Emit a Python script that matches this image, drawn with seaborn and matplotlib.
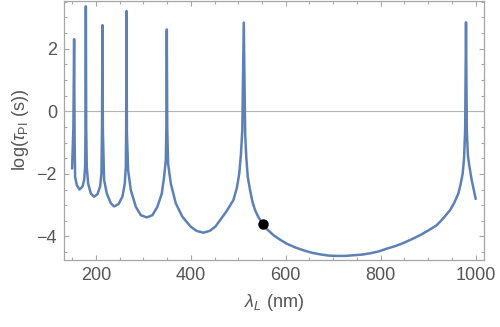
import numpy as np
import pandas as pd
import matplotlib
matplotlib.use("Agg")
import matplotlib.pyplot as plt
import seaborn as sns
from matplotlib.ticker import MultipleLocator

# values
lam_nm = [150.0, 152.8, 154.3, 155.3, 156.4, 160.0, 165.5, 171.8, 175.4, 177.5, 178.3,
          179.0, 179.8, 181.0, 183.8, 189.5, 196.4, 203.4, 209.0, 211.8, 213.0,
          213.9, 214.8, 217.5, 223.2, 231.6, 238.5, 247.6, 256.0, 261.0, 263.2, 263.9,
          264.6, 265.5, 268.0, 273.7, 284.2, 294.7, 307.4, 319.2, 329.7, 338.9,
          343.8, 347.4, 348.6,
          349.5, 350.5, 352.2, 357.9, 368.4, 382.3, 400.0, 412.0, 426.5, 440.0,
          452.0, 461.7, 475.0, 489.7, 497.0, 502.0, 505.5, 508.5,
          511.6, 514.5, 517.0, 520.0, 524.8, 530.0, 535.4, 543.0, 551.6,
          560.0, 575.0, 590.0, 602.0, 620.0, 637.0, 655.0, 672.0, 690.0, 707.0,
          725.0, 742.0, 760.0, 777.0, 795.0, 812.6, 830.0, 847.6, 865.0, 882.7,
          900.0, 917.9, 930.0, 946.0, 955.0, 963.4, 968.0, 972.6,
          975.5, 977.8,
          979.6, 981.3, 983.5, 986.6, 991.6, 1000.0]
log_tau = [-1.83, -0.5, 2.30, -0.8, -2.10, -2.36, -2.50, -2.41, -2.20, -1.78, -0.6,
           3.35, -0.6, -1.78, -2.31, -2.63, -2.73, -2.65, -2.41, -1.99, -0.6,
           2.75, -0.6, -2.20, -2.63, -2.94, -3.04, -2.97, -2.73, -2.31, -1.78, -0.6,
           3.20, -0.7, -1.88, -2.52, -3.05, -3.32, -3.39, -3.32, -3.05, -2.63,
           -2.10, -1.56, -0.5,
           2.61, -0.6, -1.67, -2.31, -2.94, -3.37, -3.69, -3.82, -3.88, -3.82,
           -3.68, -3.48, -3.20, -2.84, -2.45, -2.00, -1.40, -0.6,
           2.83, -0.7, -1.50, -2.10, -2.52, -2.90, -3.16, -3.40, -3.59,
           -3.76, -3.97, -4.12, -4.23, -4.35, -4.44, -4.52, -4.57, -4.61, -4.62,
           -4.62, -4.60, -4.58, -4.54, -4.48, -4.39, -4.31, -4.21, -4.09, -3.96,
           -3.81, -3.64, -3.45, -3.16, -2.92, -2.63, -2.35, -1.99,
           -1.50, -0.6,
           2.84, -0.6, -1.40, -1.75, -2.20, -2.80]
dot_lam = [551.6]
dot_log_tau = [-3.59]

df = pd.DataFrame({"lam": lam_nm, "logtau": log_tau})

sns.set_style("ticks")
plt.rcParams['font.family'] = ['Liberation Sans', 'DejaVu Sans']
plt.rcParams['mathtext.fontset'] = 'custom'
plt.rcParams['mathtext.rm'] = 'Liberation Sans'
plt.rcParams['mathtext.it'] = 'Liberation Sans:italic'

fig = plt.figure(figsize=(5, 3.27), dpi=100)
ax = fig.add_axes([0.128, 0.205, 0.84, 0.792])

ax.axhline(0, color="#b4b4b4", lw=0.8, zorder=1)
sns.lineplot(data=df, x="lam", y="logtau", ax=ax, color="#5e81b5", lw=1.8,
             estimator=None, sort=False, zorder=2)
ax.plot(dot_lam, dot_log_tau, "o", color="black", ms=6.5, zorder=3)

ax.set_xlim(133, 1017.5)
ax.set_ylim(-4.75, 3.52)
ax.xaxis.set_major_locator(MultipleLocator(200))
ax.xaxis.set_minor_locator(MultipleLocator(50))
ax.yaxis.set_major_locator(MultipleLocator(2))
ax.yaxis.set_minor_locator(MultipleLocator(0.5))

gray = "#a6a6a6"
for s in ax.spines.values():
    s.set_color(gray)
    s.set_linewidth(0.9)
ax.tick_params(which="both", direction="in", top=True, right=True,
               color=gray, width=0.8, labelcolor="#555555", labelsize=13, pad=5)
ax.tick_params(which="major", length=3.5)
ax.tick_params(which="minor", length=2.2)

ax.set_xlabel(r"$\lambda_L$ (nm)", fontsize=13, color="#555555", labelpad=6)
ax.set_ylabel(r"log($\tau_{\mathrm{PI}}$ (s))", fontsize=13, color="#555555", labelpad=4)

fig.savefig("out.png", dpi=100)
